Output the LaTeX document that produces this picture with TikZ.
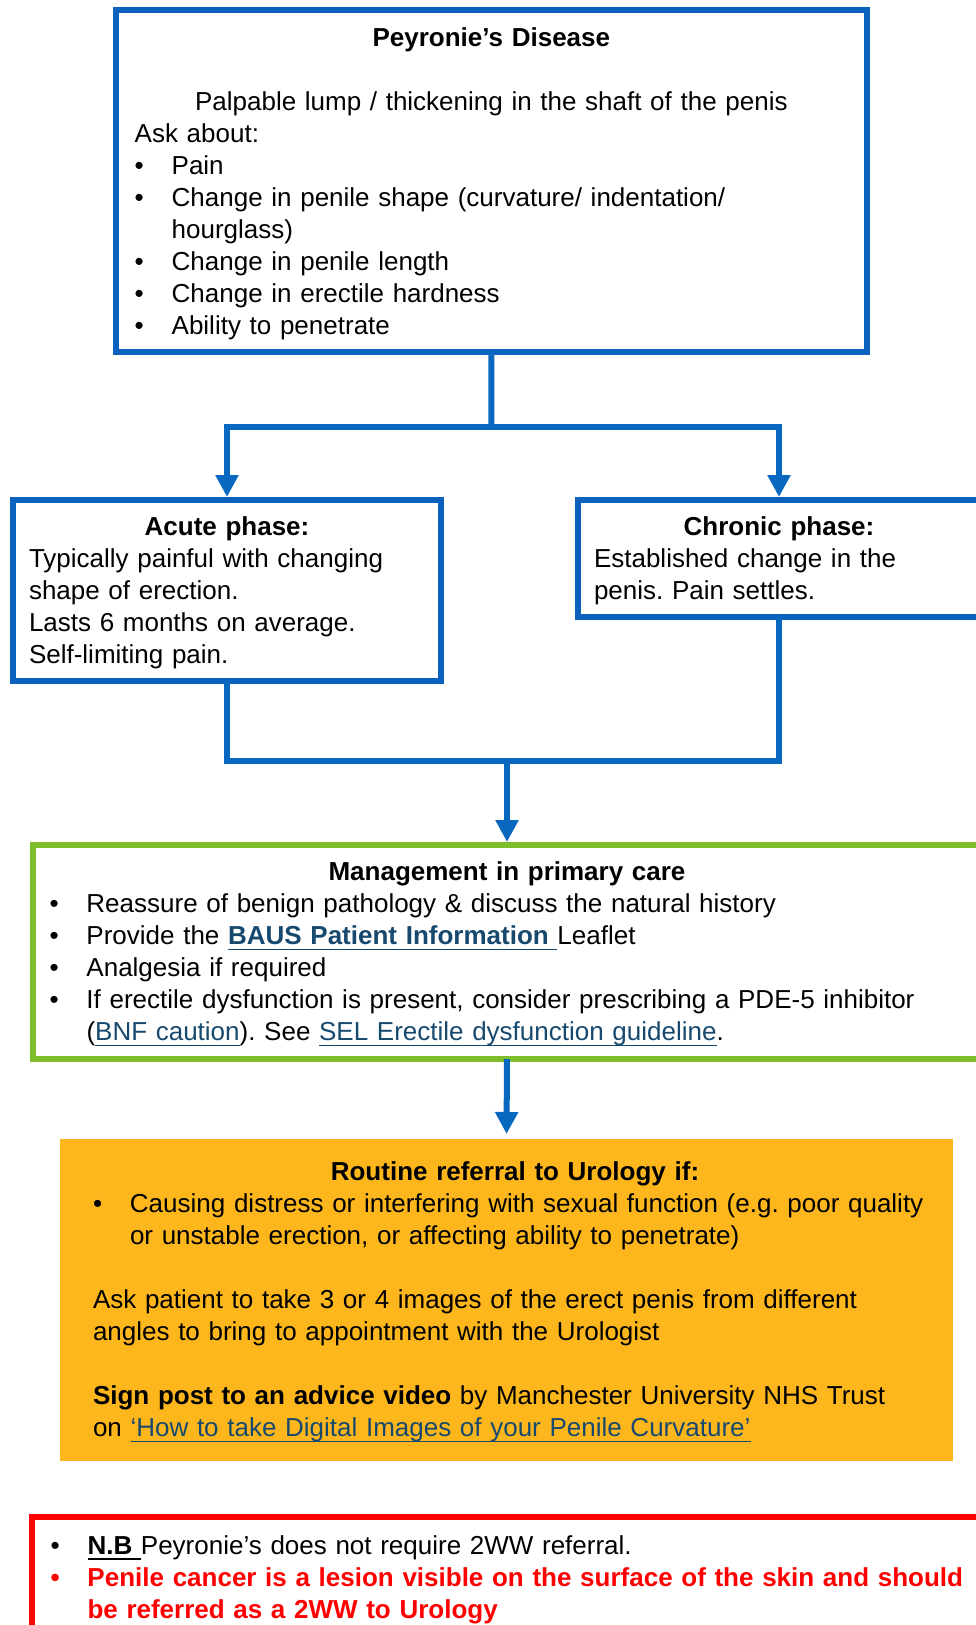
\documentclass[tikz,border=0pt]{standalone}
\usepackage{fontspec}
\setmainfont{Liberation Sans}
\usetikzlibrary{arrows.meta}
\frenchspacing

\definecolor{boxblue}{HTML}{0A62BE}
\definecolor{flowblue}{HTML}{0868C0}
\definecolor{caregreen}{HTML}{7DBE2A}
\definecolor{referamber}{HTML}{FDB71C}
\definecolor{linkblue}{HTML}{17496E}
\definecolor{alertred}{HTML}{FF0000}

\newcommand\heading[1]{{\centering\bfseries\strut\rule{0pt}{27.4pt}#1\par}}
\newcommand\bitem{\par\hangindent=37pt\hangafter=1\noindent\hbox to 37pt{\textbullet\hfil}\strut}
\newcommand\gap{\par\vspace{32pt}}
\newcommand\boxend{\strut\par}
\newcommand\undl[1]{\setbox0\hbox{#1}\rlap{\rule[-5.5pt]{\wd0}{1.8pt}}\box0}
\newcommand\lnk[1]{{\color{linkblue}\undl{#1}}}

\begin{document}
\begin{tikzpicture}[x=1pt, y=-1pt,
  box/.style={anchor=north west, align=left, inner ysep=0pt, outer sep=0pt,
    font=\fontsize{26}{32}\selectfont, execute at begin node={\parindent=0pt }},
  bluebox/.style={box, draw=boxblue, line width=6pt, inner xsep=19pt},
  phasebox/.style={box, draw=boxblue, line width=6pt, inner xsep=16pt},
  flow/.style={draw=flowblue, line width=6pt},
  tip/.style={-{Triangle[length=22pt,width=22pt]}, shorten >=3pt}]

  \useasboundingbox (0,0) rectangle (975,1625);

  % Nodes:
  \node[bluebox, minimum width=751.3pt, minimum height=341.7pt, text width=713.3pt] (disease) at (115.7,10.3) {%
    \heading{Peyronie’s Disease}
    \gap
    {\centering Palpable lump / thickening in the shaft of the penis\par}
    Ask about:
    \bitem Pain
    \bitem Change in penile shape (curvature/ indentation/\newline hourglass)
    \bitem Change in penile length
    \bitem Change in erectile hardness
    \bitem Ability to penetrate\boxend};

  \node[phasebox, minimum width=428pt, minimum height=181pt, text width=396pt] (acute) at (13,500) {%
    \heading{Acute phase:}
    Typically painful with changing\newline shape of erection.\newline
    Lasts 6 months on average.\newline Self-limiting pain.\boxend};

  \node[phasebox, minimum width=402pt, minimum height=117pt, text width=370pt] (chronic) at (578,500) {%
    \heading{Chronic phase:}
    Established change in the\newline penis. Pain settles.\boxend};

  \node[box, draw=caregreen, line width=6pt, inner xsep=17pt,
    minimum width=949pt, minimum height=214pt, text width=915pt] (care) at (32.5,845) {%
    \heading{Management in primary care}
    \bitem Reassure of benign pathology \& discuss the natural history
    \bitem Provide the \lnk{\textbf{BAUS Patient Information }}Leaflet
    \bitem Analgesia if required
    \bitem If erectile dysfunction is present, consider prescribing a PDE-5 inhibitor\newline
      (\lnk{BNF caution}). See \lnk{SEL Erectile dysfunction guideline}.\boxend};

  \node[box, fill=referamber, inner xsep=16pt,
    minimum width=893pt, minimum height=322pt, text width=861pt] (referral) at (60,1139) {%
    \leftskip=17pt
    \heading{\hspace*{17pt}Routine referral to Urology if:}
    \bitem Causing distress or interfering with sexual function (e.g. poor quality\newline
      or unstable erection, or affecting ability to penetrate)
    \gap
    Ask patient to take 3 or 4 images of the erect penis from different\newline
    angles to bring to appointment with the Urologist
    \gap
    \textbf{Sign post to an advice video} by Manchester University NHS Trust\newline
    on \lnk{‘How to take Digital Images of your Penile Curvature’}\boxend};

  \node[box, draw=alertred, line width=6pt, inner xsep=19pt,
    minimum width=1000pt, minimum height=117pt, text width=962pt] (warning) at (31.5,1517) {%
    \bitem \undl{\textbf{N.B }}Peyronie’s does not require 2WW referral.
    {\color{alertred}\bfseries\bitem Penile cancer is a lesion visible on the surface of the skin and should\newline
      be referred as a 2WW to Urology\boxend}};

  % Connections:
  \coordinate (split) at (491.35,426.5);
  \coordinate (join) at (507,761);
  \draw[flow] (disease.south) -- (split);
  \draw[flow, tip] (split) -| (acute.north);
  \draw[flow, tip] (split) -| (chronic.north);
  \draw[flow] (acute.south) |- (join) -| (chronic.south);
  \draw[flow, tip] (join) -- (care.north);
  \draw[flow, tip, shorten >=5pt] (care.south) -- (referral.north);

\end{tikzpicture}
\end{document}
